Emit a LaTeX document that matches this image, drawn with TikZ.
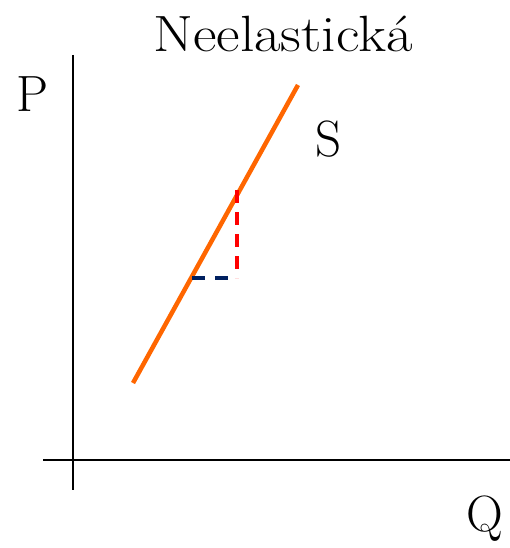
\documentclass[tikz,border=0pt]{standalone}
\usepackage{tikz}
\definecolor{curveorange}{RGB}{255,102,0}
\definecolor{dashred}{RGB}{255,0,0}
\definecolor{dashnavy}{RGB}{0,32,96}
\begin{document}
\begin{tikzpicture}[x=1pt,y=-1pt,
  axis/.style={line width=2.2pt,black},
  supply/.style={line width=4.5pt,curveorange},
  lbl/.style={inner sep=0pt,anchor=base,font=\fontsize{51}{60}\selectfont},
  dashv/.style={line width=3.4pt,dashred,dash pattern=on 13pt off 9pt},
  dashh/.style={line width=3.2pt,dashnavy,dash pattern=on 13pt off 10pt}]
\useasboundingbox (0,0) rectangle (510,548);
% axes
\coordinate (ytop) at (73,55);
\coordinate (ybot) at (73,490);
\coordinate (xl) at (43,460);
\coordinate (xr) at (510,460);
\draw[axis] (ytop) -- (ybot);
\draw[axis] (xl) -- (xr);
% supply curve
\coordinate (s1) at (133,383);
\coordinate (s2) at (298,85);
\draw[supply] (s1) -- (s2);
% dashed triangle
\coordinate (dtop) at (237,190);
\coordinate (dcorner) at (237,278);
\coordinate (dleft) at (192,278);
\coordinate (dright) at (235,278);
\draw[dashv] (dtop) -- (dcorner);
\draw[dashh] (dleft) -- (dright);
% labels
\node[lbl] (title) at (283,52) {\scalebox{1.13}[1]{Neelastická}};
\node[lbl] (P) at (33,112) {P};
\node[lbl] (S) at (329,157) {S};
\node[lbl] (Q) at (485,531) {Q};
\end{tikzpicture}
\end{document}
